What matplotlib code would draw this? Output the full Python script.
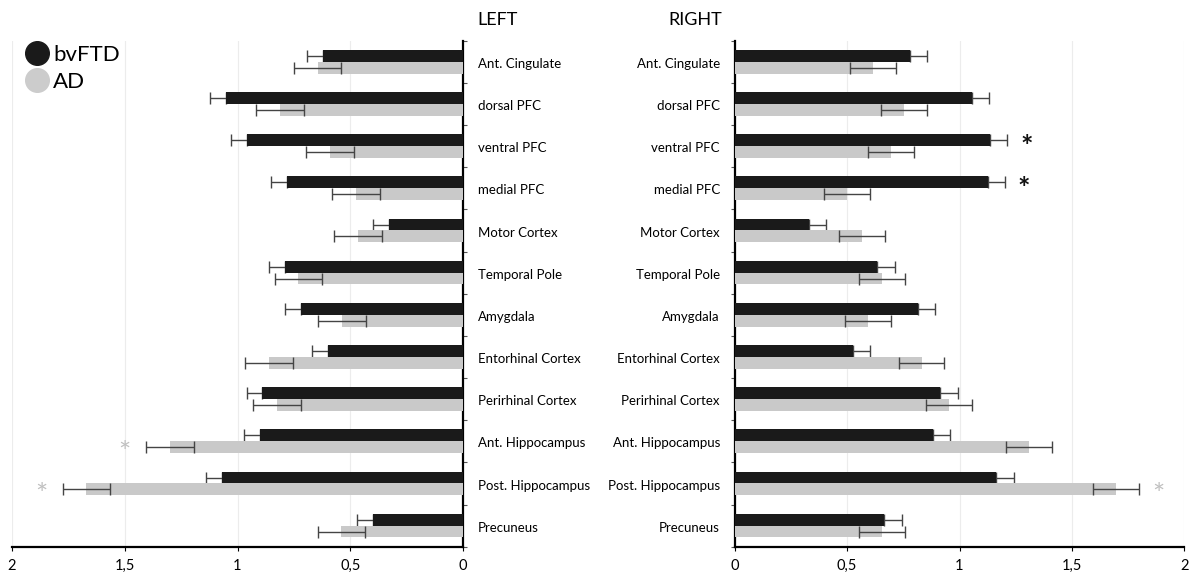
import matplotlib
matplotlib.use('Agg')
import matplotlib.pyplot as plt
from matplotlib.lines import Line2D
import numpy as np

plt.rcParams['font.family'] = ['Lato', 'DejaVu Sans']

regions = ['Ant. Cingulate', 'dorsal PFC', 'ventral PFC', 'medial PFC',
           'Motor Cortex', 'Temporal Pole', 'Amygdala', 'Entorhinal Cortex',
           'Perirhinal Cortex', 'Ant. Hippocampus', 'Post. Hippocampus',
           'Precuneus']

# left hemisphere
left_bv = [0.62, 1.05, 0.96, 0.78, 0.33, 0.79, 0.72, 0.60, 0.89, 0.90, 1.07, 0.40]
left_bv_err = [0.07, 0.07, 0.07, 0.07, 0.07, 0.07, 0.07, 0.07, 0.07, 0.07, 0.07, 0.07]
left_ad = [0.645, 0.81, 0.59, 0.475, 0.465, 0.73, 0.535, 0.86, 0.825, 1.30, 1.67, 0.54]
left_ad_err = [0.105, 0.107, 0.105, 0.106, 0.105, 0.105, 0.106, 0.106, 0.105, 0.105, 0.106, 0.105]

# right hemisphere
right_bv = [0.78, 1.055, 1.135, 1.125, 0.33, 0.635, 0.815, 0.525, 0.915, 0.88, 1.163, 0.665]
right_bv_err = [0.076, 0.077, 0.077, 0.077, 0.077, 0.077, 0.077, 0.078, 0.077, 0.077, 0.078, 0.078]
right_ad = [0.615, 0.753, 0.697, 0.498, 0.567, 0.656, 0.595, 0.832, 0.953, 1.309, 1.696, 0.656]
right_ad_err = [0.102, 0.102, 0.102, 0.102, 0.102, 0.102, 0.102, 0.1, 0.102, 0.102, 0.102, 0.102]

# significance markers: (region index, group, x position)
left_stars = [(9, 'AD', 1.50), (10, 'AD', 1.87)]
right_stars = [(2, 'bvFTD', 1.30), (3, 'bvFTD', 1.285), (10, 'AD', 1.883)]

tick_vals = [0, 0.5, 1, 1.5, 2]
tick_labels = ['0', '0,5', '1', '1,5', '2']

BV_COLOR = '#1a1a1a'
AD_COLOR = '#c9c9c9'
ERR_COLOR = '#444444'

fig = plt.figure(figsize=(11.97, 5.72), dpi=100)
ax_l = fig.add_axes([12 / 1197, 1 - 546.7 / 572, 451 / 1197, 506 / 572])
ax_r = fig.add_axes([734.6 / 1197, 1 - 546.7 / 572, 449.8 / 1197, 506 / 572])

y = np.arange(len(regions))
h = 0.28
off = 0.14


def draw_side(ax, bv, bv_err, ad, ad_err, stars):
    ax.barh(y - off, bv, height=h, color=BV_COLOR, zorder=3)
    # inner half of the bvFTD whisker is hidden by the black bar anyway
    ax.errorbar(bv, y - off, xerr=[np.zeros(len(bv)), bv_err], fmt='none',
                ecolor=ERR_COLOR, elinewidth=1, capsize=4.2, capthick=1,
                zorder=2)
    ax.barh(y + off, ad, height=h, color=AD_COLOR, zorder=3)
    ax.errorbar(ad, y + off, xerr=ad_err, fmt='none', ecolor=ERR_COLOR,
                elinewidth=1, capsize=4.2, capthick=1, zorder=4)
    for idx, grp, xpos in stars:
        if grp == 'AD':
            ax.text(xpos, idx + off + 0.16, '*', color='#c0c0c0', fontsize=21,
                    ha='center', va='center')
        else:
            ax.text(xpos, idx - off + 0.16, '*', color='#111111', fontsize=21,
                    fontweight='bold', ha='center', va='center')
    ax.set_ylim(len(regions) - 0.5, -0.5)
    ax.set_yticks(np.arange(-0.5, len(regions), 1))
    ax.set_yticklabels([])
    ax.tick_params(axis='y', length=3, width=0.8, color='#555555')
    ax.set_xticks(tick_vals)
    ax.set_xticklabels(tick_labels, fontsize=10.5)
    ax.tick_params(axis='x', length=3, width=0.8, pad=6)
    ax.grid(axis='x', color='#ececec', linewidth=0.8, zorder=0)
    ax.set_axisbelow(True)
    ax.spines['top'].set_visible(False)
    for s in ['left', 'right', 'bottom']:
        ax.spines[s].set_linewidth(1.6)


draw_side(ax_l, left_bv, left_bv_err, left_ad, left_ad_err, left_stars)
ax_l.set_xlim(2, 0)
ax_l.spines['left'].set_visible(False)
ax_l.yaxis.tick_right()

draw_side(ax_r, right_bv, right_bv_err, right_ad, right_ad_err, right_stars)
ax_r.set_xlim(0, 2)
ax_r.spines['right'].set_visible(False)

for i, name in enumerate(regions):
    ax_l.text(-0.066, i + 0.05, name, ha='left', va='center', fontsize=9.5,
              clip_on=False)
    ax_r.text(-0.065, i + 0.05, name, ha='right', va='center', fontsize=9.5,
              clip_on=False)

fig.text(477 / 1197, 1 - 20 / 572, 'LEFT', ha='left', va='center', fontsize=13)
fig.text(722 / 1197, 1 - 20 / 572, 'RIGHT', ha='right', va='center', fontsize=13)

handles = [Line2D([], [], marker='o', linestyle='none', markersize=17,
                  markerfacecolor=BV_COLOR, markeredgecolor=BV_COLOR),
           Line2D([], [], marker='o', linestyle='none', markersize=17,
                  markerfacecolor='#cccccc', markeredgecolor='#cccccc')]
fig.legend(handles, ['bvFTD', 'AD'], loc='upper left',
           bbox_to_anchor=(24 / 1197, 1 - 45 / 572), frameon=False,
           fontsize=16, handletextpad=0.1, handlelength=1.2,
           labelspacing=0.3, borderaxespad=0, borderpad=0)

fig.savefig('out.png', dpi=100)
